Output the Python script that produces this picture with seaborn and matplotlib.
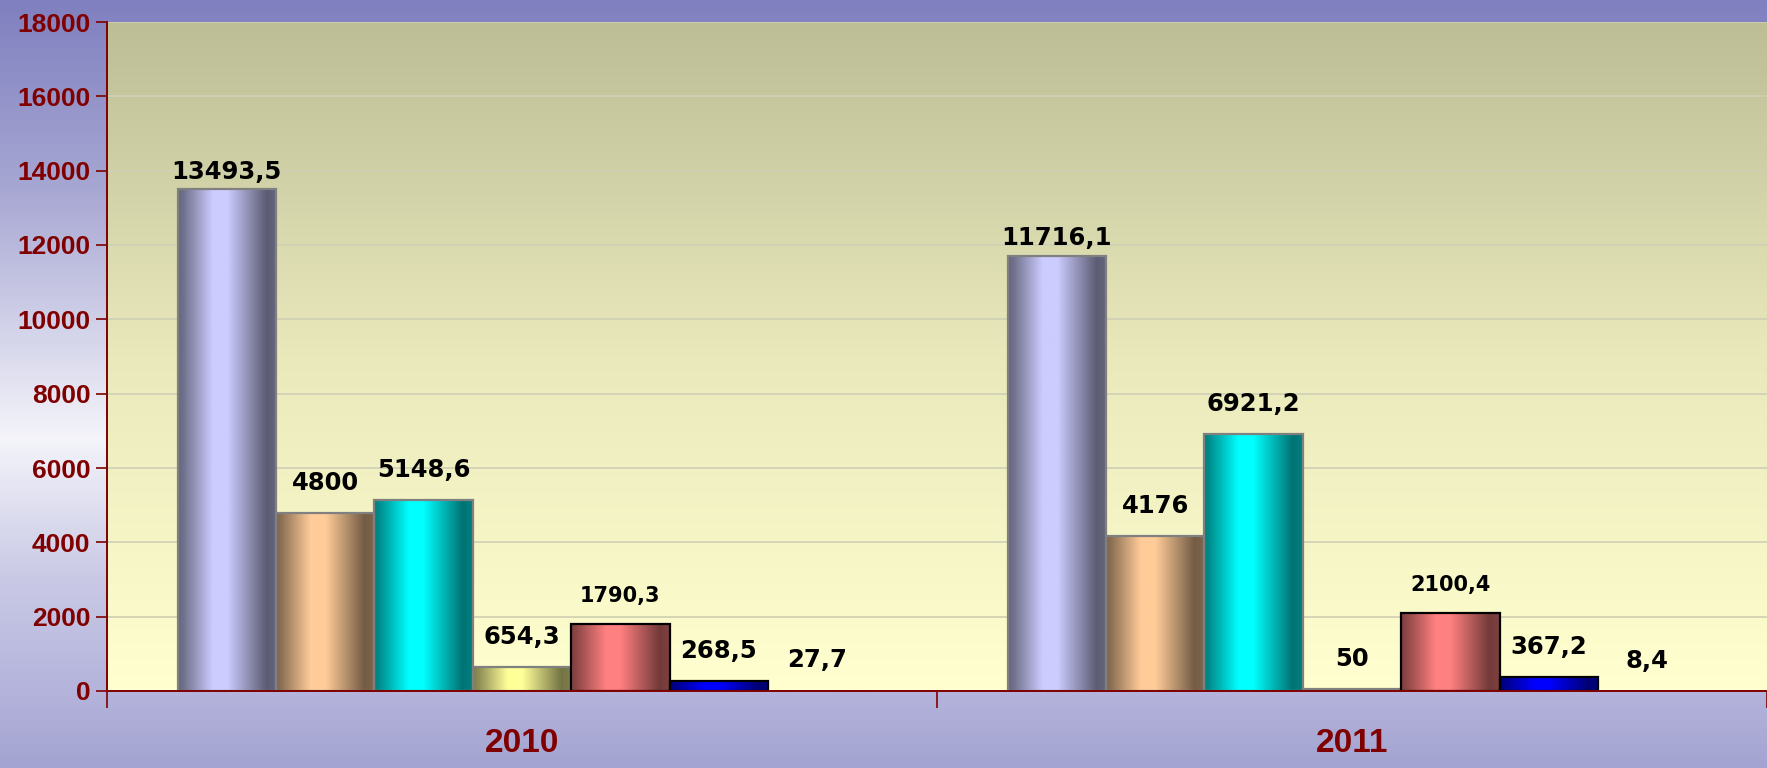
import numpy as np
import pandas as pd
import matplotlib
matplotlib.use('Agg')
import matplotlib.pyplot as plt
import seaborn as sns
from matplotlib.colors import LinearSegmentedColormap, to_rgb

# data
years = ['2010', '2011']
series = ['s1', 's2', 's3', 's4', 's5', 's6', 's7']
v2010 = [13493.5, 4800, 5148.6, 654.3, 1790.3, 268.5, 27.7]
v2011 = [11716.1, 4176, 6921.2, 50, 2100.4, 367.2, 8.4]
yticks = [0, 2000, 4000, 6000, 8000, 10000, 12000, 14000, 16000, 18000]

colors = ['#CCCCFF', '#FFCC99', '#00FFFF', '#FFFF99', '#FF8080', '#0000FF', '#FFFFCC']
edges = ['#808080', '#808080', '#808080', '#808080', '#000000', '#000000', 'none']
label_size = [17.5, 17.5, 17.5, 17.5, 15, 17.5, 17.5]
label_pad = [4, 13, 13, 13, 13, 13, 13]
dark_red = '#800000'

rows = []
for y, vals in zip(years, [v2010, v2011]):
    for s, v in zip(series, vals):
        rows.append({'year': y, 'series': s, 'value': v})
df = pd.DataFrame(rows)

sns.set_theme(style='white')
plt.rcParams['font.family'] = ['Liberation Sans', 'DejaVu Sans']

fig = plt.figure(figsize=(17.67, 7.68), dpi=100)

# figure background gradient
bg = fig.add_axes([0, 0, 1, 1], zorder=-10)
bg_cmap = LinearSegmentedColormap.from_list('bg', [
    (0.0, '#8080C0'), (0.25, '#A8A8D4'), (0.57, '#F4F4FA'),
    (0.75, '#CACAE6'), (0.9, '#B4B4DC'), (1.0, '#A4A4D2')])
bg.imshow(np.linspace(0, 1, 256).reshape(-1, 1), cmap=bg_cmap, aspect='auto',
          extent=[0, 1, 0, 1])
bg.axis('off')

ax = fig.add_axes([107 / 1767, 77 / 768, 1 - 107 / 1767, 669 / 768])
ax.patch.set_alpha(0)

# plot area gradient
pa_cmap = LinearSegmentedColormap.from_list('pa', ['#BDBD96', '#E9E9BC', '#FFFFCF'])
ax.imshow(np.linspace(0, 1, 256).reshape(-1, 1), cmap=pa_cmap, aspect='auto',
          extent=[0, 1, 0, 1], transform=ax.transAxes, zorder=0)

sns.barplot(data=df, x='year', y='value', hue='series', order=years,
            hue_order=series, palette=colors, width=0.83, errorbar=None,
            legend=False, ax=ax, zorder=3)

# cylinder-like shading on each bar
pos = [0, 0.05, 0.35, 0.5, 0.9, 1]
fac = [0.5, 0.55, 1.0, 1.0, 0.45, 0.5]
xs = np.linspace(0, 1, 100)
shade = np.interp(xs, pos, fac)
for i, cont in enumerate(ax.containers):
    base = np.array(to_rgb(colors[i]))
    img = (base[None, :] * shade[:, None])[None, :, :]
    for bar in cont:
        x0, y0 = bar.get_x(), bar.get_y()
        w, h = bar.get_width(), bar.get_height()
        im = ax.imshow(img, aspect='auto', extent=[x0, x0 + w, y0, y0 + h],
                       zorder=2.5, interpolation='bilinear')
        im.set_clip_path(bar)
        bar.set_facecolor('none')
        bar.set_edgecolor(edges[i])
        bar.set_linewidth(1.6)
    labels = [('%g' % v).replace('.', ',') for v in cont.datavalues]
    ax.bar_label(cont, labels=labels, padding=label_pad[i], fontsize=label_size[i],
                 fontweight='bold', color='black', family=['DejaVu Sans'])

ax.set_xlim(-0.5, 1.49)
ax.set_ylim(0, 18000)
ax.set_yticks(yticks)
ax.yaxis.grid(True, color='#CFCFB4', lw=1.2)
ax.set_axisbelow(True)

ax.set_xticks([0, 1])
ax.set_xticklabels(years)
ax.set_xticks([-0.5, 0.5, 1.5], minor=True)
ax.tick_params(axis='x', which='major', length=0, pad=27, labelsize=24,
               labelcolor=dark_red)
ax.tick_params(axis='x', which='minor', length=12, width=1.2, color=dark_red,
               direction='out', bottom=True)
ax.tick_params(axis='y', length=8, width=1.2, color=dark_red, direction='out',
               left=True, labelsize=19, labelcolor=dark_red, pad=4)
for lab in ax.get_xticklabels() + ax.get_yticklabels():
    lab.set_fontweight('bold')

ax.set_xlabel('')
ax.set_ylabel('')
for side in ['top', 'right']:
    ax.spines[side].set_visible(False)
for side in ['left', 'bottom']:
    ax.spines[side].set_color(dark_red)
    ax.spines[side].set_linewidth(1.4)
    ax.spines[side].set_zorder(4)

fig.savefig('out.png', dpi=100)
